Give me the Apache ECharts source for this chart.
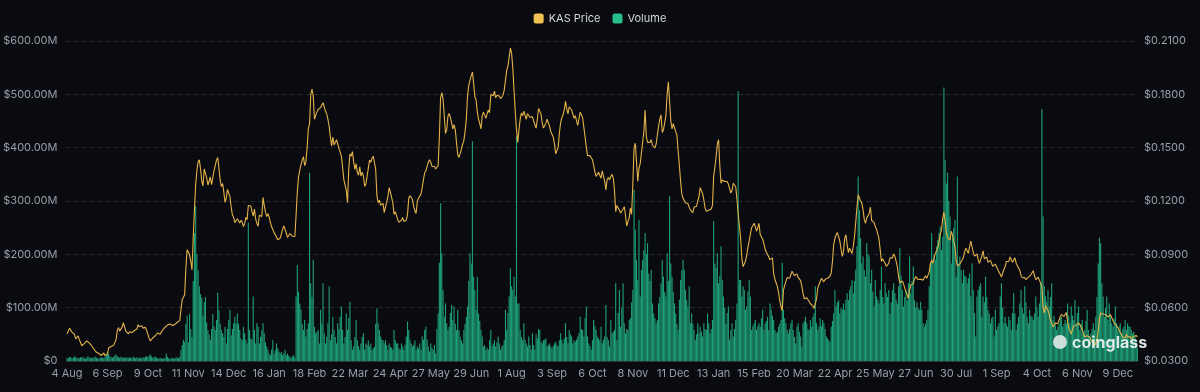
<!DOCTYPE html>
<html><head><meta charset="utf-8">
<script src="https://cdn.jsdelivr.net/npm/echarts@6/dist/echarts.min.js"></script>
<style>html,body{margin:0;padding:0;background:#0a0b10;}#c{width:1200px;height:392px;}</style>
</head><body><div id="c"></div>
<script>
const startDate = '2023-08-04';
const monthNames = ['Jan','Feb','Mar','Apr','May','Jun','Jul','Aug','Sep','Oct','Nov','Dec'];
const seriesNames = ['KAS Price', 'Volume'];
const volumeTicks = [0, 100, 200, 300, 400, 500, 600];
const priceTicks = [0.03, 0.06, 0.09, 0.12, 0.15, 0.18, 0.21];

// KAS price (USD), one value per day from 4 Aug 2023
const price = [
0.0451,0.0468,0.0485,0.0495,0.0462,0.0455,0.0450,0.0425,0.0432,0.0441,
0.0420,0.0404,0.0386,0.0390,0.0398,0.0405,0.0413,0.0408,0.0402,0.0394,
0.0386,0.0378,0.0366,0.0357,0.0349,0.0345,0.0342,0.0338,0.0331,0.0340,
0.0345,0.0330,0.0322,0.0340,0.0374,0.0378,0.0382,0.0386,0.0388,0.0393,
0.0420,0.0472,0.0488,0.0468,0.0475,0.0492,0.0515,0.0490,0.0468,0.0458,
0.0452,0.0465,0.0468,0.0460,0.0468,0.0472,0.0470,0.0480,0.0505,0.0492,
0.0488,0.0498,0.0485,0.0482,0.0489,0.0472,0.0450,0.0428,0.0413,0.0422,
0.0430,0.0436,0.0442,0.0448,0.0458,0.0455,0.0451,0.0462,0.0474,0.0482,
0.0490,0.0496,0.0502,0.0495,0.0508,0.0505,0.0500,0.0497,0.0506,0.0514,
0.0518,0.0522,0.0527,0.0590,0.0645,0.0658,0.0672,0.0820,0.0925,0.0932,
0.0900,0.0860,0.0812,0.0990,0.1150,0.1290,0.1370,0.1420,0.1432,0.1380,
0.1310,0.1285,0.1380,0.1390,0.1330,0.1290,0.1295,0.1335,0.1292,0.1281,
0.1370,0.1378,0.1430,0.1445,0.1385,0.1319,0.1281,0.1298,0.1250,0.1192,
0.1215,0.1265,0.1275,0.1225,0.1165,0.1122,0.1108,0.1078,0.1080,0.1100,
0.1090,0.1076,0.1092,0.1080,0.1056,0.1074,0.1108,0.1095,0.1175,0.1170,
0.1172,0.1140,0.1115,0.1155,0.1100,0.1075,0.1058,0.1120,0.1125,0.1112,
0.1220,0.1175,0.1140,0.1112,0.1128,0.1110,0.1080,0.1055,0.1040,0.1022,
0.1012,0.0998,0.0982,0.0984,0.0990,0.0998,0.1040,0.1060,0.1062,0.1020,
0.0995,0.1005,0.1017,0.1010,0.1002,0.0996,0.1000,0.1120,0.1250,0.1335,
0.1372,0.1405,0.1430,0.1450,0.1398,0.1420,0.1500,0.1605,0.1635,0.1800,
0.1830,0.1790,0.1660,0.1680,0.1700,0.1715,0.1708,0.1725,0.1740,0.1753,
0.1730,0.1705,0.1690,0.1660,0.1620,0.1560,0.1510,0.1560,0.1515,0.1520,
0.1545,0.1522,0.1495,0.1475,0.1451,0.1390,0.1320,0.1330,0.1260,0.1190,
0.1380,0.1465,0.1452,0.1478,0.1420,0.1378,0.1410,0.1360,0.1345,0.1392,
0.1340,0.1362,0.1340,0.1282,0.1295,0.1340,0.1385,0.1430,0.1418,0.1440,
0.1452,0.1460,0.1380,0.1230,0.1190,0.1205,0.1175,0.1172,0.1187,0.1135,
0.1165,0.1192,0.1224,0.1275,0.1250,0.1220,0.1190,0.1125,0.1140,0.1135,
0.1095,0.1080,0.1085,0.1092,0.1108,0.1085,0.1078,0.1092,0.1125,0.1215,
0.1230,0.1224,0.1210,0.1170,0.1145,0.1130,0.1200,0.1215,0.1210,0.1240,
0.1275,0.1320,0.1357,0.1370,0.1395,0.1420,0.1432,0.1418,0.1395,0.1388,
0.1394,0.1380,0.1385,0.1400,0.1560,0.1780,0.1810,0.1775,0.1680,0.1580,
0.1600,0.1677,0.1692,0.1670,0.1640,0.1605,0.1630,0.1600,0.1530,0.1460,
0.1445,0.1450,0.1490,0.1520,0.1540,0.1590,0.1660,0.1790,0.1850,0.1880,
0.1904,0.1925,0.1860,0.1785,0.1770,0.1700,0.1660,0.1635,0.1605,0.1680,
0.1700,0.1705,0.1665,0.1690,0.1712,0.1696,0.1800,0.1810,0.1792,0.1818,
0.1780,0.1795,0.1805,0.1790,0.1775,0.1780,0.1795,0.1825,0.1880,0.1935,
0.1960,0.2010,0.2060,0.2030,0.1945,0.1820,0.1700,0.1600,0.1530,0.1600,
0.1660,0.1695,0.1680,0.1705,0.1700,0.1660,0.1692,0.1685,0.1670,0.1660,
0.1675,0.1650,0.1645,0.1610,0.1660,0.1720,0.1730,0.1690,0.1640,0.1610,
0.1615,0.1638,0.1660,0.1650,0.1620,0.1590,0.1585,0.1560,0.1520,0.1465,
0.1470,0.1500,0.1580,0.1640,0.1668,0.1685,0.1712,0.1760,0.1720,0.1690,
0.1730,0.1720,0.1712,0.1705,0.1665,0.1680,0.1680,0.1625,0.1635,0.1700,
0.1705,0.1668,0.1615,0.1560,0.1500,0.1455,0.1462,0.1455,0.1448,0.1432,
0.1400,0.1365,0.1338,0.1340,0.1362,0.1360,0.1328,0.1370,0.1340,0.1310,
0.1262,0.1320,0.1332,0.1320,0.1336,0.1350,0.1330,0.1260,0.1140,0.1175,
0.1165,0.1148,0.1132,0.1140,0.1155,0.1168,0.1120,0.1060,0.1050,0.1105,
0.1160,0.1125,0.1300,0.1500,0.1525,0.1420,0.1310,0.1385,0.1410,0.1470,
0.1530,0.1590,0.1712,0.1560,0.1530,0.1525,0.1530,0.1545,0.1515,0.1505,
0.1498,0.1520,0.1570,0.1620,0.1660,0.1685,0.1585,0.1600,0.1605,0.1680,
0.1800,0.1870,0.1880,0.1650,0.1605,0.1635,0.1625,0.1590,0.1570,0.1480,
0.1400,0.1310,0.1240,0.1215,0.1205,0.1190,0.1200,0.1185,0.1165,0.1150,
0.1140,0.1135,0.1165,0.1155,0.1170,0.1200,0.1225,0.1275,0.1270,0.1240,
0.1205,0.1160,0.1142,0.1140,0.1148,0.1150,0.1155,0.1175,0.1340,0.1390,
0.1450,0.1520,0.1545,0.1400,0.1300,0.1318,0.1320,0.1310,0.1318,0.1310,
0.1295,0.1270,0.1245,0.1260,0.1300,0.1300,0.1280,0.1210,0.1130,0.1060,
0.0990,0.0880,0.0830,0.0840,0.0862,0.0895,0.0940,0.0975,0.1015,0.1050,
0.1062,0.1075,0.1055,0.1030,0.1050,0.1074,0.1010,0.1000,0.0985,0.0960,
0.0930,0.0912,0.0900,0.0885,0.0870,0.0875,0.0880,0.0790,0.0760,0.0740,
0.0720,0.0685,0.0640,0.0605,0.0583,0.0700,0.0725,0.0730,0.0770,0.0772,
0.0765,0.0760,0.0805,0.0798,0.0780,0.0775,0.0790,0.0770,0.0760,0.0752,
0.0720,0.0680,0.0650,0.0640,0.0655,0.0648,0.0635,0.0622,0.0620,0.0610,
0.0595,0.0585,0.0650,0.0710,0.0730,0.0720,0.0765,0.0755,0.0745,0.0760,
0.0760,0.0765,0.0772,0.0778,0.0795,0.0860,0.0955,0.0990,0.1010,0.1022,
0.1000,0.0975,0.0930,0.0888,0.0915,0.0990,0.1010,0.0955,0.0910,0.0935,
0.0930,0.0905,0.0945,0.1000,0.1080,0.1165,0.1235,0.1225,0.1200,0.1188,
0.1150,0.1095,0.1075,0.1105,0.1100,0.1130,0.1165,0.1090,0.1085,0.1080,
0.1055,0.1040,0.1015,0.0985,0.0925,0.0860,0.0875,0.0880,0.0850,0.0832,
0.0835,0.0850,0.0880,0.0870,0.0880,0.0902,0.0888,0.0860,0.0830,0.0775,
0.0740,0.0748,0.0750,0.0735,0.0710,0.0690,0.0672,0.0652,0.0700,0.0728,
0.0735,0.0734,0.0760,0.0775,0.0781,0.0758,0.0765,0.0760,0.0762,0.0755,
0.0768,0.0780,0.0765,0.0762,0.0800,0.0848,0.0865,0.0850,0.0880,0.0905,
0.0920,0.0935,0.0970,0.1015,0.1035,0.1100,0.1138,0.1090,0.1020,0.0995,
0.0990,0.0980,0.1030,0.1010,0.0975,0.0945,0.0870,0.0835,0.0830,0.0845,
0.0858,0.0870,0.0885,0.0915,0.0935,0.0925,0.0905,0.0945,0.0975,0.0985,
0.0910,0.0890,0.0895,0.0902,0.0870,0.0850,0.0870,0.0890,0.0920,0.0875,
0.0868,0.0885,0.0855,0.0858,0.0866,0.0848,0.0832,0.0840,0.0845,0.0830,
0.0815,0.0800,0.0788,0.0772,0.0795,0.0815,0.0830,0.0860,0.0852,0.0860,
0.0885,0.0870,0.0855,0.0850,0.0880,0.0850,0.0835,0.0826,0.0810,0.0780,
0.0768,0.0762,0.0770,0.0758,0.0760,0.0772,0.0770,0.0785,0.0795,0.0808,
0.0778,0.0758,0.0760,0.0772,0.0755,0.0745,0.0720,0.0600,0.0570,0.0610,
0.0620,0.0585,0.0564,0.0530,0.0510,0.0492,0.0500,0.0515,0.0526,0.0510,
0.0530,0.0550,0.0562,0.0565,0.0550,0.0548,0.0572,0.0520,0.0485,0.0468,
0.0452,0.0478,0.0498,0.0508,0.0500,0.0510,0.0515,0.0508,0.0492,0.0475,
0.0455,0.0435,0.0430,0.0442,0.0450,0.0435,0.0418,0.0410,0.0402,0.0388,
0.0400,0.0425,0.0470,0.0535,0.0570,0.0572,0.0564,0.0556,0.0560,0.0562,
0.0548,0.0558,0.0560,0.0545,0.0528,0.0515,0.0505,0.0498,0.0490,0.0475,
0.0462,0.0451,0.0435,0.0426,0.0430,0.0450,0.0435,0.0440,0.0438,0.0424,
0.0430,0.0438,0.0442,0.0444,0.0435
];

// Daily volume, millions of USD
const volume = [
6,5,8,7,5,6,9,7,5,6,
5,7,6,8,5,4,6,9,7,5,
6,5,7,8,6,5,4,6,7,5,
6,8,12,17,14,9,7,6,8,10,
12,9,7,6,8,7,5,6,7,6,
5,7,6,5,8,6,5,7,6,5,
6,5,7,6,8,9,7,10,12,8,
6,7,9,6,5,4,6,5,4,5,
6,14,8,5,4,5,6,4,5,7,
6,5,8,20,30,40,35,70,85,35,
88,60,45,150,240,290,200,170,140,125,
118,85,110,120,72,58,50,40,60,88,
65,58,77,128,95,70,58,52,45,64,
33,60,77,96,48,60,71,83,70,89,
70,58,42,39,64,52,40,33,259,58,
42,40,121,58,33,71,64,33,45,58,
71,52,35,27,21,14,11,21,39,14,
20,33,24,18,14,17,11,15,21,11,
14,10,8,5,9,11,6,121,180,130,
108,96,70,58,77,46,60,71,353,146,
120,190,64,52,55,58,33,96,70,146,
52,33,45,71,140,39,50,83,58,45,
33,71,60,83,102,58,33,45,89,58,
80,111,39,21,27,45,77,39,28,21,
33,45,52,21,33,30,39,27,33,21,
24,27,70,99,71,58,46,40,39,33,
39,30,21,33,27,25,21,58,39,33,
33,24,21,33,27,21,30,46,74,58,
40,33,27,30,39,21,27,24,33,21,
46,40,58,64,40,27,18,33,25,21,
30,14,60,89,184,296,202,133,83,108,
71,58,64,90,105,77,102,70,58,96,
58,45,39,33,58,70,83,102,150,202,
183,412,158,133,96,158,89,75,58,46,
27,30,21,25,21,39,58,27,33,39,
27,35,46,33,21,27,30,39,96,58,
90,121,174,140,133,158,121,421,108,108,
58,45,39,71,40,33,27,46,30,21,
52,30,21,50,42,60,58,36,33,39,
40,42,27,30,33,27,24,28,33,36,
30,27,39,52,40,33,42,71,45,33,
58,50,46,33,39,36,40,46,52,83,
60,58,46,80,102,46,33,28,21,39,
77,65,58,46,42,39,64,33,40,46,
105,45,39,27,77,52,55,58,146,39,
90,133,64,100,146,71,52,60,58,77,
80,110,133,321,246,190,152,265,121,171,
190,208,240,200,221,164,150,171,108,89,
80,71,77,108,120,146,190,158,130,121,
202,150,309,183,158,130,108,89,70,58,
115,152,170,190,171,133,115,102,140,71,
89,70,58,39,50,71,52,64,55,46,
71,60,58,89,71,52,60,77,262,183,
175,202,146,160,215,152,121,100,70,90,
102,40,58,71,46,60,77,108,506,152,
152,121,140,133,96,102,130,152,121,58,
65,71,77,58,65,71,64,80,96,58,
71,75,83,58,108,96,85,77,58,52,
55,64,70,77,184,96,80,71,58,52,
60,71,77,58,45,33,64,71,55,46,
27,71,75,83,71,60,58,77,64,83,
90,140,71,58,65,80,65,77,71,60,
46,42,39,36,64,75,89,133,102,110,
114,89,100,96,108,96,115,127,114,133,
140,152,127,150,171,215,346,283,230,183,
196,170,158,221,200,196,146,171,130,102,
152,121,115,108,133,177,120,108,146,127,
120,133,89,110,133,146,127,115,108,140,
212,160,133,102,120,133,114,146,196,127,
150,177,114,100,110,100,96,111,96,71,
64,70,77,96,140,183,240,183,200,190,
215,227,240,252,208,233,513,377,333,353,
300,271,183,233,250,265,158,346,183,196,
170,146,171,160,158,146,155,164,121,183,
133,90,46,121,133,140,146,83,121,110,
158,120,96,89,71,80,83,46,96,58,
65,71,121,146,100,71,83,70,64,83,
77,58,90,127,89,58,70,83,108,133,
100,89,140,110,83,71,96,85,83,77,
89,121,100,83,108,146,472,271,140,121,
110,133,102,120,146,77,85,71,58,64,
71,80,83,64,70,77,71,108,85,71,
102,85,77,114,71,90,102,58,70,77,
52,58,75,96,58,46,52,60,71,58,
83,120,183,231,221,146,121,83,100,121,
77,108,85,71,64,80,102,71,58,65,
71,52,60,64,77,58,71,65,64,58,
52,55,48,39,25
];

// Daily category labels built from the start date
const dates = [];
const t0 = Date.parse(startDate + 'T00:00:00Z');
for (let i = 0; i < price.length; i++) {
  const d = new Date(t0 + i * 86400000);
  dates.push(d.getUTCDate() + ' ' + monthNames[d.getUTCMonth()]);
}

const priceColor = '#e3b249';
const volColor = '#1e9f77';
const labelColor = '#9a9ea7';

const chart = echarts.init(document.getElementById('c'), null, {renderer: 'canvas'});
chart.setOption({
  backgroundColor: '#0a0b10',
  animation: false,
  legend: {
    top: 8, left: 'center', itemWidth: 10, itemHeight: 10, itemGap: 12,
    textStyle: {color: '#d4d7dc', fontSize: 11, fontFamily: 'Inter, Roboto, sans-serif'},
    data: [
      {name: seriesNames[0], icon: 'roundRect', itemStyle: {color: '#f0c251'}},
      {name: seriesNames[1], icon: 'roundRect', itemStyle: {color: '#27be89'}}
    ]
  },
  grid: {left: 64, right: 62, top: 41, bottom: 31},
  xAxis: {
    type: 'category', data: dates, boundaryGap: true,
    axisLine: {show: true, lineStyle: {color: '#30333a'}},
    axisTick: {show: false},
    axisLabel: {interval: 32, color: labelColor, fontSize: 11, margin: 7, fontFamily: 'Inter, Roboto, sans-serif'}
  },
  yAxis: [
    {
      type: 'value', min: volumeTicks[0], max: volumeTicks[volumeTicks.length - 1], interval: 100,
      axisLine: {show: false}, axisTick: {show: false},
      axisLabel: {color: labelColor, fontSize: 11, margin: 9, fontFamily: 'Inter, Roboto, sans-serif',
        formatter: v => v === 0 ? '$0' : '$' + v.toFixed(2) + 'M'},
      splitLine: {lineStyle: {color: '#2a2d35', type: [4, 4]}}
    },
    {
      type: 'value', min: priceTicks[0], max: priceTicks[priceTicks.length - 1], interval: 0.03,
      axisLine: {show: false}, axisTick: {show: false},
      axisLabel: {color: labelColor, fontSize: 11, margin: 6, fontFamily: 'Inter, Roboto, sans-serif',
        formatter: v => '$' + v.toFixed(4)},
      splitLine: {show: false}
    }
  ],
  series: [
    {
      name: seriesNames[1], type: 'bar', yAxisIndex: 0, data: volume,
      barCategoryGap: '10%', itemStyle: {color: volColor}, z: 1
    },
    {
      name: seriesNames[0], type: 'line', yAxisIndex: 1, data: price,
      showSymbol: false, symbol: 'none', lineStyle: {color: priceColor, width: 1.1},
      itemStyle: {color: priceColor}, z: 3
    }
  ],
  graphic: [
    {type: 'circle', left: 1053, top: 335, shape: {r: 7}, style: {fill: 'rgba(235,240,238,0.85)'}, z: 10},
    {type: 'text', left: 1072, top: 335, style: {text: 'coinglass', fill: 'rgba(240,243,242,0.92)', fontSize: 16, fontWeight: 'bold', fontFamily: 'Inter, Roboto, sans-serif'}, z: 10}
  ]
});
</script>
</body></html>
